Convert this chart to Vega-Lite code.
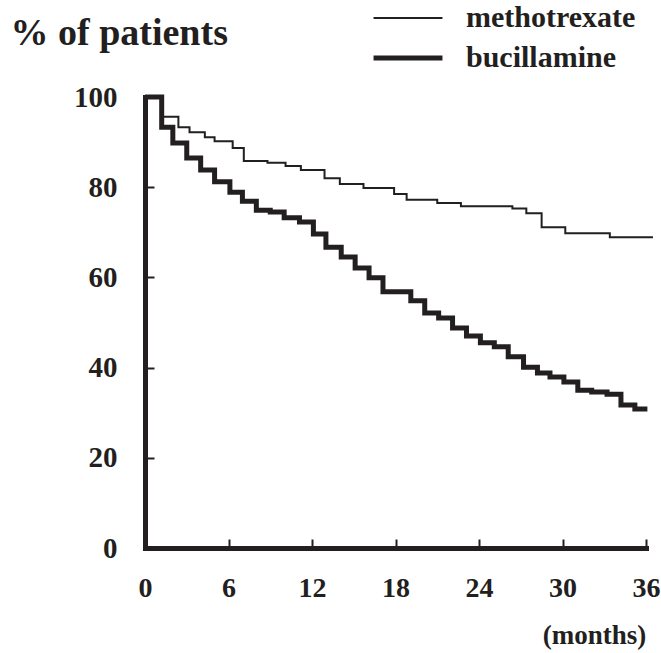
{
  "$schema": "https://vega.github.io/schema/vega-lite/v6.json",
  "width": 501,
  "height": 451,
  "autosize": {"type": "none"},
  "padding": {"left": 145, "top": 97, "right": 15, "bottom": 105},
  "background": "white",
  "config": {"view": {"stroke": null}, "font": "Liberation Serif"},
  "data": {"values": [
    {"drug": "methotrexate", "month": 0, "pct": 100},
    {"drug": "methotrexate", "month": 1.2, "pct": 95.6},
    {"drug": "methotrexate", "month": 2.4, "pct": 93.3},
    {"drug": "methotrexate", "month": 3.2, "pct": 92.2},
    {"drug": "methotrexate", "month": 4.3, "pct": 91.1},
    {"drug": "methotrexate", "month": 5.0, "pct": 90.2},
    {"drug": "methotrexate", "month": 6.3, "pct": 88.7},
    {"drug": "methotrexate", "month": 7.1, "pct": 85.8},
    {"drug": "methotrexate", "month": 8.8, "pct": 85.4},
    {"drug": "methotrexate", "month": 10.1, "pct": 84.7},
    {"drug": "methotrexate", "month": 11.2, "pct": 83.8},
    {"drug": "methotrexate", "month": 12.9, "pct": 82.0},
    {"drug": "methotrexate", "month": 14.0, "pct": 80.7},
    {"drug": "methotrexate", "month": 15.7, "pct": 79.8},
    {"drug": "methotrexate", "month": 17.9, "pct": 78.5},
    {"drug": "methotrexate", "month": 18.8, "pct": 77.2},
    {"drug": "methotrexate", "month": 21.0, "pct": 76.5},
    {"drug": "methotrexate", "month": 22.7, "pct": 75.8},
    {"drug": "methotrexate", "month": 26.4, "pct": 75.3},
    {"drug": "methotrexate", "month": 27.4, "pct": 74.2},
    {"drug": "methotrexate", "month": 28.5, "pct": 71.1},
    {"drug": "methotrexate", "month": 30.2, "pct": 69.8},
    {"drug": "methotrexate", "month": 33.4, "pct": 68.9},
    {"drug": "methotrexate", "month": 36.5, "pct": 68.9},
    {"drug": "bucillamine", "month": 0, "pct": 100},
    {"drug": "bucillamine", "month": 1.2, "pct": 93.3},
    {"drug": "bucillamine", "month": 2.0, "pct": 89.8},
    {"drug": "bucillamine", "month": 3.0, "pct": 86.5},
    {"drug": "bucillamine", "month": 4.0, "pct": 83.8},
    {"drug": "bucillamine", "month": 5.0, "pct": 81.2},
    {"drug": "bucillamine", "month": 6.1, "pct": 78.9},
    {"drug": "bucillamine", "month": 7.0, "pct": 76.9},
    {"drug": "bucillamine", "month": 8.0, "pct": 74.9},
    {"drug": "bucillamine", "month": 9.0, "pct": 74.5},
    {"drug": "bucillamine", "month": 10.0, "pct": 73.2},
    {"drug": "bucillamine", "month": 11.1, "pct": 72.3},
    {"drug": "bucillamine", "month": 12.1, "pct": 69.6},
    {"drug": "bucillamine", "month": 13.0, "pct": 66.7},
    {"drug": "bucillamine", "month": 14.1, "pct": 64.5},
    {"drug": "bucillamine", "month": 15.1, "pct": 62.1},
    {"drug": "bucillamine", "month": 16.1, "pct": 59.9},
    {"drug": "bucillamine", "month": 17.1, "pct": 56.8},
    {"drug": "bucillamine", "month": 19.1, "pct": 54.8},
    {"drug": "bucillamine", "month": 20.1, "pct": 52.1},
    {"drug": "bucillamine", "month": 21.1, "pct": 51.0},
    {"drug": "bucillamine", "month": 22.1, "pct": 48.8},
    {"drug": "bucillamine", "month": 23.1, "pct": 47.0},
    {"drug": "bucillamine", "month": 24.1, "pct": 45.5},
    {"drug": "bucillamine", "month": 25.1, "pct": 44.6},
    {"drug": "bucillamine", "month": 26.1, "pct": 42.4},
    {"drug": "bucillamine", "month": 27.2, "pct": 40.1},
    {"drug": "bucillamine", "month": 28.2, "pct": 38.8},
    {"drug": "bucillamine", "month": 29.1, "pct": 37.9},
    {"drug": "bucillamine", "month": 30.1, "pct": 36.8},
    {"drug": "bucillamine", "month": 31.1, "pct": 35.0},
    {"drug": "bucillamine", "month": 32.1, "pct": 34.6},
    {"drug": "bucillamine", "month": 33.2, "pct": 34.1},
    {"drug": "bucillamine", "month": 34.2, "pct": 31.7},
    {"drug": "bucillamine", "month": 35.2, "pct": 30.8},
    {"drug": "bucillamine", "month": 36.1, "pct": 30.8}
  ]},
  "mark": {"type": "line", "interpolate": "step-after", "color": "#231f20", "strokeCap": "butt"},
  "encoding": {
    "x": {
      "field": "month", "type": "quantitative",
      "scale": {"domain": [0, 36], "nice": false, "zero": false},
      "axis": {
        "values": [0, 6, 12, 18, 24, 30, 36], "grid": false,
        "domainWidth": 5, "domainColor": "#231f20", "domainCap": "square",
        "tickColor": "#231f20", "tickWidth": 2, "tickSize": -9,
        "labelFont": "Liberation Serif", "labelFontWeight": "bold", "labelFontSize": 28,
        "labelColor": "#231f20", "labelPadding": 35, "labelFlush": false,
        "title": "(months)", "titleFont": "Liberation Serif", "titleFontWeight": "bold",
        "titleFontSize": 27, "titleColor": "#231f20",
        "titleX": 449, "titleY": 95, "titleAlign": "center", "titleBaseline": "alphabetic"
      }
    },
    "y": {
      "field": "pct", "type": "quantitative",
      "scale": {"domain": [0, 100], "nice": false},
      "axis": {
        "values": [0, 20, 40, 60, 80, 100], "grid": false,
        "domainWidth": 5, "domainColor": "#231f20", "domainCap": "square",
        "tickColor": "#231f20", "tickWidth": 2, "tickSize": -9,
        "labelFont": "Liberation Serif", "labelFontWeight": "bold", "labelFontSize": 29,
        "labelColor": "#231f20", "labelPadding": 37, "labelFlush": false,
        "title": "% of patients", "titleFont": "Liberation Serif", "titleFontWeight": "bold",
        "titleFontSize": 38, "titleColor": "#231f20", "titleAngle": 0,
        "titleX": -135, "titleY": -53, "titleAlign": "left", "titleBaseline": "alphabetic"
      }
    },
    "strokeWidth": {
      "field": "drug", "type": "nominal",
      "scale": {"domain": ["methotrexate", "bucillamine"], "range": [2, 5]},
      "legend": {
        "title": null, "orient": "none", "legendX": 248, "legendY": -94,
        "symbolType": "M-4,0H4", "symbolSize": 297, "symbolStrokeColor": "#231f20",
        "labelFont": "Liberation Serif", "labelFontWeight": "bold", "labelFontSize": 30,
        "labelColor": "#231f20", "labelOffset": 43, "labelLimit": 400, "rowPadding": 10, "padding": 0
      }
    }
  }
}
